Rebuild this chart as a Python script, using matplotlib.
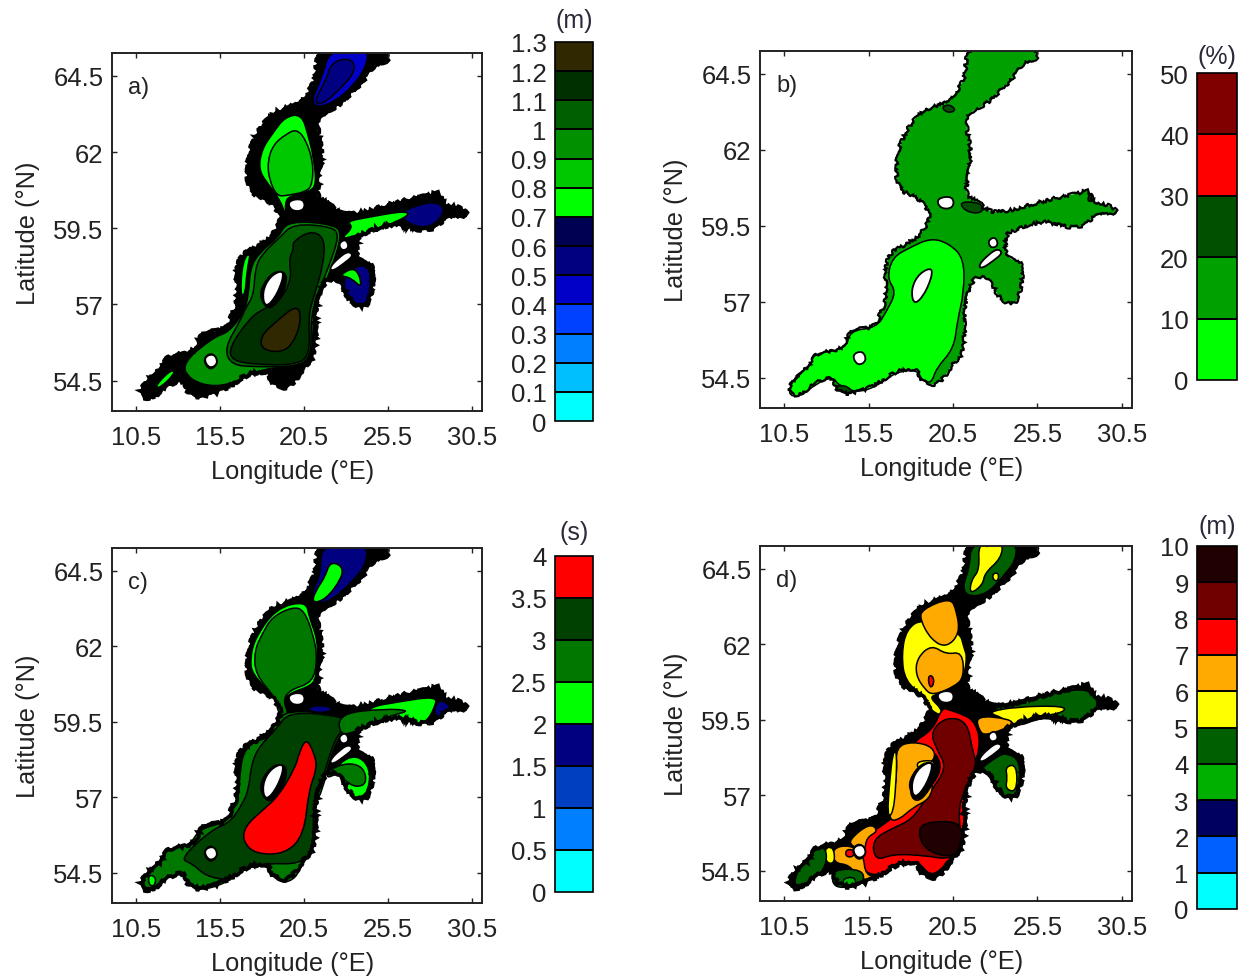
"""
Mapas del Báltico en cuatro paneles con barras de color por niveles.
Contornos leídos a mano de la figura (lon, lat).
"""

import matplotlib
matplotlib.use('Agg')
import matplotlib.pyplot as plt
from matplotlib.colors import ListedColormap, BoundaryNorm
from matplotlib.cm import ScalarMappable
from matplotlib.patches import PathPatch
from matplotlib.path import Path

plt.rcParams['font.family'] = ['Liberation Sans', 'DejaVu Sans']

W, H = 1247, 978

# --- Costa e islas ---
coast = [(21.45,65.4),(25.52,65.4),(25.52,64.94),(24.73,64.88),(24.03,64.34),(23.04,63.79),(22.25,63.41),
         (21.45,63.24),(21.25,62.81),(21.49,62.21),(21.55,61.66),(21.35,61.0),(21.25,60.46),(22.05,60.35),
         (22.34,60.02),(23.44,59.91),(26.01,60.35),(28.0,60.57),(28.59,60.7),(28.69,60.29),(29.98,60.15),
         (30.35,59.82),(28.99,59.91),(28.2,59.42),(27.01,59.47),(25.82,59.69),(24.23,59.36),(23.59,59.25),
         (23.63,58.38),(24.72,58.36),(24.43,57.0),(23.73,56.9),(23.14,57.18),(22.74,57.72),(22.05,57.83),
         (21.65,57.72),(21.15,56.85),(21.2,55.3),(20.46,54.94),(20.06,54.55),(19.37,54.2),(18.57,54.42),
         (18.38,54.83),(17.09,54.72),(15.9,54.23),(14.31,53.92),(13.52,54.12),(13.32,54.55),(12.33,54.34),
         (11.43,53.85),(10.65,54.01),(11.23,54.61),(12.13,54.88),(12.23,55.3),(14.11,55.43),(14.31,56.08),
         (15.9,56.14),(16.19,56.63),(16.59,57.07),(16.45,58.05),(16.79,58.65),(17.88,58.93),(18.67,59.25),
         (19.17,59.8),(18.87,60.18),(18.28,60.46),(17.25,60.68),(17.08,61.55),(17.48,62.42),(18.48,63.22),
         (19.27,63.41),(20.46,63.68),(21.25,64.39),(21.25,64.94)]
gotland = [(18.0,57.4),(18.5,57.95),(19.4,58.15),(18.95,57.35),(18.2,56.85)]
bornholm = [(14.5,55.25),(15.15,55.4),(15.4,55.05),(14.85,54.88)]
aland = [(19.5,60.4),(20.5,60.48),(20.55,60.08),(19.75,60.05)]
hiiumaa = [(22.55,59.0),(23.0,59.15),(23.2,58.85),(22.75,58.75)]
saaremaa = [(22.0,58.2),(22.6,58.55),(23.15,58.75),(23.45,58.6),(22.9,58.35),(22.2,58.08)]
gotland_rim = [(17.88,57.51),(18.67,58.11),(19.57,58.05),(19.27,57.29),(18.48,56.8),(17.98,57.07)]
bornholm_rim = [(14.45,55.2),(15.0,55.45),(15.45,55.1),(14.9,54.8)]

# --- Panel a: altura (m) ---
levels_a = [0, 0.1, 0.2, 0.3, 0.4, 0.5, 0.6, 0.7, 0.8, 0.9, 1, 1.1, 1.2, 1.3]
labels_a = ['0', '0.1', '0.2', '0.3', '0.4', '0.5', '0.6', '0.7', '0.8', '0.9', '1', '1.1', '1.2', '1.3']
colors_a = ['#00ffff', '#00bfff', '#0080ff', '#0040ff', '#0000c8', '#000080', '#000050',
            '#00ff00', '#00c800', '#009000', '#006000', '#003000', '#302800']
a_bay_blue = [(22.05,65.4),(24.33,65.4),(24.23,64.83),(23.44,64.17),(22.25,63.63),(21.25,63.46),(20.96,63.74),(21.55,64.39)]
a_bay_navy = [(22.64,65.05),(23.44,65.03),(23.53,64.61),(22.64,64.06),(21.65,63.57),(21.05,63.63),(21.85,64.39),(22.05,64.83)]
a_sea_bright = [(19.37,63.15),(20.36,63.25),(20.76,62.53),(21.05,61.88),(21.25,60.95),(20.86,60.7),(19.67,60.57),
                (19.37,60.35),(19.43,59.85),(19.07,60.46),(18.28,61.0),(17.8,61.44),(18.0,62.1),(18.67,62.64)]
a_sea_mid = [(20.06,62.75),(20.6,62.42),(21.05,61.66),(21.0,60.95),(20.66,60.7),(19.47,60.57),(18.9,60.55),
             (18.45,61.06),(18.32,61.66),(18.67,62.25),(19.47,62.6)]
a_south_mid = [(19.55,59.75),(22.4,59.62),(22.74,59.25),(22.2,58.27),(21.45,57.29),(21.05,56.63),(21.0,55.25),
               (20.1,54.95),(18.08,54.9),(16.69,54.5),(15.2,54.28),(13.75,54.5),(13.2,55.05),(15.1,55.92),
               (16.0,56.08),(16.89,56.7),(17.2,57.29),(17.3,58.2),(17.85,58.7),(18.97,59.2)]
a_south_dark = [(19.86,59.65),(22.2,59.55),(22.6,59.25),(22.0,58.27),(21.3,57.34),(20.9,56.52),(20.95,55.25),
                (19.96,54.95),(17.68,54.95),(16.2,55.0),(15.75,55.54),(16.69,56.45),(17.04,56.9),(17.5,57.29),
                (17.6,58.2),(18.0,58.65),(19.07,59.2)]
a_deep = [(19.8,59.04),(20.86,59.42),(21.75,59.2),(21.65,58.27),(21.1,57.29),(20.75,56.63),(20.88,55.25),(19.67,55.0),
          (17.68,55.03),(16.2,55.15),(16.05,55.59),(17.29,56.56),(18.08,56.85),(19.07,57.1),(19.77,57.83),(19.6,58.49),(19.9,58.82)]
a_deepest = [(20.1,57.0),(20.35,56.52),(19.96,55.82),(19.27,55.42),(18.0,55.5),(17.9,55.95),(18.87,56.45)]
a_gof_bright = [(23.04,59.72),(24.23,59.85),(26.61,60.08),(26.75,59.88),(24.23,59.33),(23.63,59.28),(22.64,59.12),(23.44,59.53)]
a_gof_navy = [(26.61,60.13),(28.2,60.4),(28.99,60.13),(28.2,59.55),(27.01,59.55),(26.21,59.91)]
a_riga_navy = [(22.74,57.8),(23.63,58.3),(24.5,58.2),(24.4,57.1),(23.73,56.95),(23.14,57.25)]
a_riga_bright = [(22.55,57.95),(23.63,58.25),(24.0,57.5),(23.3,57.88)]
a_kattegat_bright = [(11.6,54.3),(12.6,54.87),(12.85,54.75),(11.93,54.25)]
a_west_bright = [(16.7,57.3),(16.85,58.45),(17.35,58.75),(17.1,58.1),(17.0,57.3)]

values_a = [0.45, 0.55, 0.75, 0.85, 0.75, 0.95, 1.05, 1.15, 1.25, 0.55, 0.75, 0.55, 0.75, 0.75]
polys_a = [a_bay_blue, a_bay_navy, a_sea_bright, a_sea_mid, a_west_bright, a_south_mid, a_south_dark,
           a_deep, a_deepest, a_gof_navy, a_gof_bright, a_riga_navy, a_riga_bright, a_kattegat_bright]

# --- Panel b: porcentaje ---
levels_b = [0, 10, 20, 30, 40, 50]
labels_b = ['0', '10', '20', '30', '40', '50']
colors_b = ['#00ff00', '#00a000', '#005000', '#ff0000', '#800000']
b_south = [(19.22,59.1),(20.3,58.9),(21.15,58.42),(21.15,57.32),(20.75,56.34),(20.55,55.46),(19.51,54.81),(19.22,54.3),
           (18.62,54.42),(18.43,54.75),(17.15,54.7),(15.96,54.2),(14.78,54.0),(13.69,54.26),(13.4,54.53),(12.41,54.31),
           (11.43,53.85),(10.65,53.95),(11.23,54.62),(12.12,54.88),(12.22,55.3),(14.19,55.43),(14.38,56.05),(15.96,56.14),
           (16.55,56.67),(17.15,57.32),(16.6,57.76),(16.9,58.45),(17.93,58.78)]
b_patch_n = [(19.8,63.4),(20.3,63.5),(20.7,63.3),(20.2,63.2)]
b_patch_sw = [(13.4,54.2),(14.1,54.26),(14.6,54.04),(14.1,53.95)]
b_patch_e = [(28.4,60.3),(28.7,60.65),(28.9,60.3)]
b_patch_arch = [(21.0,60.3),(22.2,60.25),(22.3,59.95),(21.6,59.9),(21.0,60.1)]
values_b = [5, 25, 25, 25, 25]
polys_b = [b_south, b_patch_n, b_patch_sw, b_patch_e, b_patch_arch]

# --- Panel c: periodo (s) ---
levels_c = [0, 0.5, 1, 1.5, 2, 2.5, 3, 3.5, 4]
labels_c = ['0', '0.5', '1', '1.5', '2', '2.5', '3', '3.5', '4']
colors_c = ['#00ffff', '#0080ff', '#0040c0', '#000080', '#00ff00', '#007800', '#004000', '#ff0000']
c_bay = [(21.51,65.4),(24.29,65.4),(24.19,64.7),(23.4,64.15),(22.21,63.54),(21.21,63.38),(20.92,63.76),(21.51,64.37)]
c_bay_bright = [(22.05,64.8),(22.8,64.65),(22.75,64.25),(21.81,63.55),(20.95,63.42),(21.21,63.85),(21.75,64.28)]
c_sea_bright = [(18.83,63.25),(20.62,63.5),(20.82,62.94),(21.35,62.17),(21.25,61.07),(21.02,60.7),(19.43,60.41),
                (19.23,59.97),(18.83,60.3),(17.4,61.07),(17.3,61.62),(17.6,62.28)]
c_sea_mid = [(19.82,63.3),(20.5,63.2),(21.05,62.39),(21.3,61.62),(21.05,60.8),(19.63,60.55),(19.25,60.19),(19.63,59.7),
             (19.0,59.7),(18.8,60.3),(17.6,61.07),(17.55,61.84),(18.0,62.39),(18.6,62.97)]
c_south_outer = [(19.53,59.9),(22.8,59.72),(23.3,59.42),(22.6,59.05),(22.0,58.21),(21.6,57.22),(21.15,56.78),(21.15,55.25),
                 (20.42,54.85),(20.02,54.32),(19.23,54.15),(18.44,54.47),(18.34,54.74),(17.05,54.69),(15.86,54.15),(14.27,53.9),
                 (13.58,54.25),(13.18,54.47),(12.29,54.36),(11.49,53.98),(10.85,54.03),(11.19,54.6),(12.09,54.87),(12.29,55.28),
                 (13.67,55.38),(14.27,55.95),(15.66,56.14),(16.15,56.48),(16.6,56.89),(16.7,57.99),(17.0,58.62),(18.04,59.0),(18.83,59.46)]
c_south_dark = [(19.63,59.85),(22.85,59.67),(23.2,59.42),(22.45,59.05),(21.85,58.1),(21.45,57.22),(21.05,56.78),(21.05,55.25),
                (20.22,54.78),(18.34,54.82),(17.05,54.65),(16.06,54.25),(14.67,54.38),(13.87,54.8),(13.1,54.96),(15.06,55.95),
                (16.06,56.15),(16.75,56.7),(17.2,57.22),(17.4,58.21),(18.0,58.8),(18.83,59.24)]
c_red = [(20.62,58.95),(21.05,58.54),(21.3,57.99),(20.78,57.22),(20.5,55.75),(19.38,55.12),(17.6,55.12),(16.85,55.55),
         (17.0,56.05),(18.0,56.55),(19.0,57.05),(20.0,58.0),(20.2,58.45)]
c_gof_bright = [(24.19,59.97),(26.17,60.16),(28.4,60.35),(28.3,59.97),(27.7,59.42),(26.77,59.5),(25.78,59.69),(24.78,59.53)]
c_gof_mid = [(22.6,59.78),(25.38,59.93),(26.85,59.87),(25.78,59.72),(24.78,59.5),(23.59,59.17),(22.6,59.05)]
c_riga_bright = [(22.55,58.12),(23.59,58.42),(24.45,58.0),(24.35,57.15),(23.59,56.95),(23.05,57.18),(22.55,57.77)]
c_riga_mid = [(21.95,57.9),(23.1,58.15),(24.05,58.0),(24.25,57.45),(23.59,57.33),(23.0,57.52),(22.5,57.8),(21.85,57.62)]
c_arch_navy = [(20.9,60.05),(22.2,60.0),(22.0,59.8),(20.8,59.82)]
c_gulf_navy = [(28.4,60.25),(29.3,60.05),(28.9,59.75),(28.25,59.65)]
c_sw_bright = [(11.25,54.45),(11.7,54.35),(11.6,54.05),(11.25,54.1)]
values_c = [1.75, 2.25, 2.25, 2.75, 2.75, 3.25, 3.75, 2.25, 2.75, 2.25, 2.75, 1.75, 1.75, 2.25]
polys_c = [c_bay, c_bay_bright, c_sea_bright, c_sea_mid, c_south_outer, c_south_dark, c_red, c_gof_bright, c_gof_mid,
           c_riga_bright, c_riga_mid, c_arch_navy, c_gulf_navy, c_sw_bright]

# --- Panel d: altura máxima (m) ---
levels_d = [0, 1, 2, 3, 4, 5, 6, 7, 8, 9, 10]
labels_d = ['0', '1', '2', '3', '4', '5', '6', '7', '8', '9', '10']
colors_d = ['#00ffff', '#0060ff', '#000060', '#00b000', '#006000', '#ffff00', '#ffaa00', '#ff0000', '#700000', '#200000']
d_bay = [(21.58,65.4),(24.24,65.4),(24.24,64.79),(23.46,64.24),(22.47,63.64),(21.29,63.58),(21.09,63.97),(21.48,64.52)]
d_bay_yellow = [(21.98,65.4),(23.46,65.4),(23.36,64.85),(22.37,64.35),(22.27,63.97),(21.48,63.64),(21.58,64.13),(22.08,64.46)]
d_bay_small = [(22.86,64.35),(23.22,64.35),(23.16,64.08),(22.86,64.13)]
d_sea_yellow = [(17.74,62.5),(18.72,62.85),(20.89,62.43),(21.15,61.88),(21.35,61.55),(21.05,60.75),(19.51,60.34),(19.12,60.23),
                (19.85,59.85),(19.75,59.62),(19.05,59.89),(18.85,60.23),(17.65,60.78),(17.45,61.66)]
d_sea_orange1 = [(18.65,63.15),(20.35,63.55),(20.72,63.09),(20.9,62.35),(20.1,61.88),(19.2,62.15),(18.55,62.81)]
d_sea_orange2 = [(18.38,61.55),(19.22,61.98),(20.1,61.66),(21.05,61.75),(21.15,60.92),(20.65,60.62),(19.31,60.3),(18.8,60.52),(18.28,61.0)]
d_sea_red = [(19.0,60.92),(19.28,60.98),(19.4,60.7),(19.14,60.53)]
d_gof_green = [(22.57,59.86),(24.64,60.18),(26.81,60.4),(28.48,60.55),(29.25,60.01),(28.25,59.42),(26.81,59.42),(25.82,59.6),(24.05,59.2)]
d_gof_yellow = [(22.5,59.75),(24.24,59.93),(27.1,59.96),(27.1,59.75),(25.62,59.6),(24.05,59.3),(23.46,59.56)]
d_gof_orange = [(21.85,59.64),(23.85,59.53),(24.1,59.32),(22.45,58.97),(22.05,59.12)]
d_red = [(19.85,59.9),(20.3,59.82),(20.95,59.7),(21.75,59.48),(22.15,58.79),(21.75,57.91),(21.15,57.0),(21.15,55.25),(20.15,54.85),
         (19.85,54.55),(19.12,54.33),(18.43,54.83),(16.95,54.75),(16.26,54.33),(15.2,54.45),(15.1,54.94),(15.3,55.65),(16.55,56.08),
         (17.74,56.65),(19.31,57.3),(19.91,58.02),(19.12,58.6),(18.0,58.72),(19.31,59.16)]
d_maroon = [(19.15,59.1),(20.1,59.6),(21.35,59.45),(21.65,58.46),(21.95,58.02),(21.15,57.14),(20.8,56.48),(21.05,55.12),(20.1,54.88),
            (18.92,55.0),(16.95,55.06),(15.9,54.82),(15.7,55.53),(16.95,55.92),(18.1,56.2),(19.1,57.07),(20.15,57.91),(19.55,58.5)]
d_black = [(18.65,56.1),(20.75,56.15),(21.05,55.77),(21.05,55.12),(20.1,54.95),(18.92,55.18),(18.45,55.66)]
d_west_orange = [(17.1,58.6),(18.13,58.78),(19.35,58.6),(19.45,58.13),(18.33,57.91),(17.93,57.25),(18.13,56.81),(18.72,56.87),
                 (19.35,57.47),(19.15,56.88),(18.13,56.6),(17.34,56.2),(16.7,56.15),(16.9,56.81),(17.2,57.69)]
d_west_yellow = [(16.95,58.45),(17.18,58.45),(17.12,57.3),(16.95,56.4),(16.6,56.28),(16.75,57.5)]
d_got_yellow = [(18.3,58.12),(19.45,58.16),(19.31,57.88),(18.5,57.82)]
d_sw_orange1 = [(14.33,55.52),(15.57,56.08),(16.1,55.82),(15.37,55.6),(15.27,55.12),(14.55,55.3)]
d_sw_orange2 = [(13.35,55.25),(14.38,55.36),(15.2,55.05),(15.3,54.36),(16.2,54.25),(14.98,54.18),(14.38,54.7),(13.45,54.75)]
d_sw_yellow = [(12.88,55.25),(13.42,55.3),(13.52,54.75),(12.98,54.75)]
d_sw_red = [(14.15,55.2),(14.62,55.2),(14.62,54.96),(14.15,54.96)]
d_sw_green = [(10.98,53.92),(11.4,54.65),(12.41,55.25),(13.0,55.25),(13.0,54.7),(12.41,54.25)]
d_sw_green2 = [(13.35,54.55),(15.2,54.55),(15.2,54.03),(13.99,53.92),(13.35,54.03)]
d_sw_green3 = [(13.95,54.25),(14.72,54.3),(14.72,53.98),(14.05,53.93)]
d_riga_green = [(22.0,57.82),(23.16,58.3),(23.65,58.4),(24.5,58.15),(24.4,57.1),(23.65,56.88),(23.1,57.14),(22.62,57.69)]
d_riga_yellow = [(23.6,57.95),(24.28,58.02),(24.28,57.1),(23.6,57.2),(23.72,57.58)]
values_d = [4.5, 5.5, 5.5, 5.5, 6.5, 6.5, 7.5, 4.5, 5.5, 6.5, 7.5, 8.5, 9.5, 6.5, 5.5, 5.5, 6.5, 6.5, 5.5, 7.5, 4.5, 4.5, 3.5, 4.5, 5.5]
polys_d = [d_bay, d_bay_yellow, d_bay_small, d_sea_yellow, d_sea_orange1, d_sea_orange2, d_sea_red, d_gof_green, d_gof_yellow,
           d_gof_orange, d_red, d_maroon, d_black, d_west_orange, d_west_yellow, d_got_yellow, d_sw_orange1, d_sw_orange2,
           d_sw_yellow, d_sw_red, d_sw_green, d_sw_green2, d_sw_green3, d_riga_green, d_riga_yellow]

lon_ticks = [10.5, 15.5, 20.5, 25.5, 30.5]
lat_ticks = [54.5, 57, 59.5, 62, 64.5]
lat_labels = ['54.5', '57', '59.5', '62', '64.5']


def make_axes(fig, left, top, right, bottom):
    return fig.add_axes([left / W, 1 - bottom / H, (right - left) / W, (bottom - top) / H])


def round_path(poly):
    """Trazo cerrado con curvas cuadráticas, los vértices actúan de puntos de control."""
    n = len(poly)
    mids = [((poly[i][0] + poly[(i + 1) % n][0]) / 2, (poly[i][1] + poly[(i + 1) % n][1]) / 2) for i in range(n)]
    verts = [mids[-1]]
    codes = [Path.MOVETO]
    for i in range(n):
        verts += [poly[i], mids[i]]
        codes += [Path.CURVE3, Path.CURVE3]
    verts.append(mids[-1])
    codes.append(Path.CLOSEPOLY)
    return Path(verts, codes)


def draw_map(ax, polys, values, cmap, norm, base_color, tag, rim=True):
    """Costa de base, regiones superpuestas e islas en blanco."""
    ax.add_patch(PathPatch(round_path(coast), facecolor=base_color, edgecolor='none'))
    for poly, val in zip(polys, values):
        ax.add_patch(PathPatch(round_path(poly), facecolor=cmap(norm(val)), edgecolor='black', lw=1.1))
    if rim:
        ax.add_patch(PathPatch(round_path(gotland_rim), facecolor='black', edgecolor='black', lw=1))
        ax.add_patch(PathPatch(round_path(bornholm_rim), facecolor='black', edgecolor='black', lw=1))
    for isl in [gotland, bornholm, aland, hiiumaa, saaremaa]:
        ax.add_patch(PathPatch(round_path(isl), facecolor='white', edgecolor='black', lw=1.3))
    outline = PathPatch(round_path(coast), facecolor='none', edgecolor='black', lw=2.6 if rim else 1.6)
    outline.set_sketch_params(scale=1.6, length=7, randomness=25)
    ax.add_patch(outline)

    ax.set_xlim(9.07, 31.1)
    ax.set_ylim(53.5, 65.25)
    ax.set_xticks(lon_ticks)
    ax.set_xticklabels([str(v) for v in lon_ticks])
    ax.set_yticks(lat_ticks)
    ax.set_yticklabels(lat_labels)
    ax.tick_params(direction='in', length=3.5, width=1, top=True, right=True, labelsize=18.5,
                   labelcolor='#222222', color='#222222')
    ax.tick_params(axis='x', pad=10)
    ax.tick_params(axis='y', pad=6)
    ax.set_xlabel('Longitude (°E)', fontsize=18.3, color='#222222', labelpad=8)
    ax.set_ylabel('Latitude (°N)', fontsize=18.3, color='#222222', labelpad=10)
    ax.xaxis.set_label_coords(0.488, -0.135)
    for sp in ax.spines.values():
        sp.set_linewidth(1.4)
        sp.set_color('#222222')
    ax.text(0.044, 0.905, tag, transform=ax.transAxes, fontsize=17, color='#222222', va='center')


def draw_bar(fig, rect, levels, colors, labels, unit, title_pad):
    cmap = ListedColormap(colors)
    norm = BoundaryNorm(levels, cmap.N)
    cax = make_axes(fig, *rect)
    cb = fig.colorbar(ScalarMappable(norm=norm, cmap=cmap), cax=cax, ticks=levels,
                      spacing='uniform', drawedges=True, ticklocation='left')
    cb.ax.set_yticklabels(labels)
    cb.ax.tick_params(length=0, labelsize=18.5, labelcolor='#222222', pad=6)
    cb.dividers.set_linewidth(1.4)
    cb.outline.set_linewidth(1.2)
    cb.ax.set_title(unit, fontsize=18, color='#2a2a3a', pad=title_pad)
    return cmap, norm


fig = plt.figure(figsize=(W / 100, H / 100), dpi=100)

cmap_a, norm_a = draw_bar(fig, (555, 43, 593, 422), levels_a, colors_a, labels_a, '(m)', 10.5)
cmap_b, norm_b = draw_bar(fig, (1197, 74, 1237, 381), levels_b, colors_b, labels_b, '(%)', 7.5)
cmap_c, norm_c = draw_bar(fig, (555, 557, 593, 893), levels_c, colors_c, labels_c, '(s)', 12.5)
cmap_d, norm_d = draw_bar(fig, (1197, 547, 1237, 910), levels_d, colors_d, labels_d, '(m)', 9)

draw_map(make_axes(fig, 112, 54, 482, 412), polys_a, values_a, cmap_a, norm_a, 'black', 'a)')
draw_map(make_axes(fig, 760, 52, 1132, 409), polys_b, values_b, cmap_b, norm_b, '#00a000', 'b)', rim=False)
draw_map(make_axes(fig, 112, 549, 482, 904), polys_c, values_c, cmap_c, norm_c, 'black', 'c)')
draw_map(make_axes(fig, 760, 547, 1132, 902), polys_d, values_d, cmap_d, norm_d, 'black', 'd)')

fig.savefig('out.png', dpi=100)
